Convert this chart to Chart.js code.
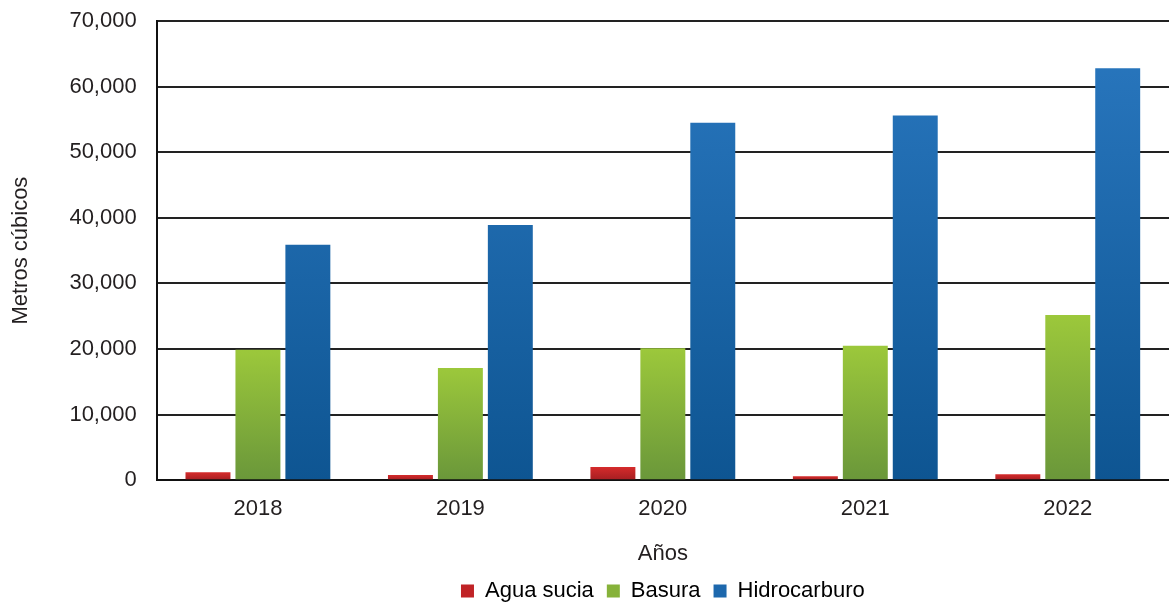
<!DOCTYPE html>
<html>
<head>
<meta charset="utf-8">
<script src="https://cdn.jsdelivr.net/npm/chart.js@4/dist/chart.umd.min.js"></script>
<style>
  html, body { margin: 0; padding: 0; background: #fff; }
  #wrap { width: 1169px; height: 602px; }
</style>
</head>
<body>
<div id="wrap"><canvas id="canvas1" width="1169" height="602"></canvas></div>
<script>
// data
let years = ['2018', '2019', '2020', '2021', '2022'];
let aguaSucia = [1200, 800, 2000, 600, 900];
let basura = [19900, 17100, 20100, 20500, 25200];
let hidrocarburo = [35900, 38900, 54500, 55600, 62800];

let fontTxt = { family: 'Liberation Sans', size: 22 };

// vertical gradient for each bar, light on top, dark at the bottom
function barGrad(top, bottom) {
  return function(ctx) {
    let chart = ctx.chart;
    let area = chart.chartArea;
    if (!area || ctx.type !== 'data') return top;
    let y0 = chart.scales.y.getPixelForValue(ctx.raw);
    let g = chart.ctx.createLinearGradient(0, area.bottom, 0, Math.min(y0, area.bottom - 1));
    g.addColorStop(0, bottom);
    g.addColorStop(1, top);
    return g;
  };
}
function areaGrad(top, bottom) {
  return function(ctx) {
    let chart = ctx.chart;
    let area = chart.chartArea;
    if (!area) return top;
    let g = chart.ctx.createLinearGradient(0, area.bottom, 0, area.top);
    g.addColorStop(0, bottom);
    g.addColorStop(1, top);
    return g;
  };
}

// center the legend under the plot area instead of the whole canvas
let legendUnderPlot = {
  id: 'legendUnderPlot',
  afterLayout: function(chart) {
    let lg = chart.legend;
    if (!lg) return;
    lg.left = chart.chartArea.left;
    lg.right = chart.chartArea.right;
  }
};

let myChart = document.getElementById('canvas1').getContext('2d');
let massChart = new Chart(myChart, {
  type: 'bar',
  data: {
    labels: years,
    datasets: [{
      label: 'Agua sucia',
      data: aguaSucia,
      backgroundColor: barGrad('#d52b2b', '#a51e22')
    }, {
      label: 'Basura',
      data: basura,
      backgroundColor: barGrad('#9cc83b', '#6a973a')
    }, {
      label: 'Hidrocarburo',
      data: hidrocarburo,
      backgroundColor: areaGrad('#2a78c0', '#0e5592')
    }]
  },
  plugins: [legendUnderPlot],
  options: {
    responsive: false,
    animation: false,
    layout: { padding: { top: 0, right: 0, left: 8, bottom: -10 } },
    datasets: {
      bar: { categoryPercentage: 0.74, barPercentage: 0.9 }
    },
    plugins: {
      legend: {
        position: 'bottom',
        labels: {
          font: fontTxt,
          color: '#231f20',
          boxWidth: 13,
          boxHeight: 13,
          padding: 13,
          generateLabels: function(chart) {
            let cols = ['#c02326', '#86b23a', '#1d68ad'];
            return chart.data.datasets.map(function(ds, i) {
              return { text: ds.label, fillStyle: cols[i], strokeStyle: cols[i], lineWidth: 0, datasetIndex: i };
            });
          }
        }
      },
      tooltip: { enabled: false }
    },
    scales: {
      x: {
        grid: { display: false },
        border: { display: true, color: '#111', width: 2 },
        ticks: {
          font: fontTxt,
          color: '#231f20',
          padding: 8
        },
        title: {
          display: true,
          text: 'Años',
          font: fontTxt,
          color: '#231f20',
          padding: { top: 10, bottom: 0 }
        }
      },
      y: {
        min: 0,
        max: 70000,
        afterFit: function(s) { s.paddingTop = 21; s.paddingBottom = 0; },
        grid: {
          color: '#222',
          lineWidth: 2,
          drawTicks: false
        },
        border: { display: true, color: '#111', width: 2 },
        ticks: {
          stepSize: 10000,
          font: fontTxt,
          color: '#231f20',
          padding: 20,
          callback: function(v) { return v.toLocaleString('en-US'); }
        },
        title: {
          display: true,
          text: 'Metros cúbicos',
          font: fontTxt,
          color: '#231f20',
          padding: { top: 0, bottom: 15 }
        }
      }
    }
  }
});
</script>
</body>
</html>
